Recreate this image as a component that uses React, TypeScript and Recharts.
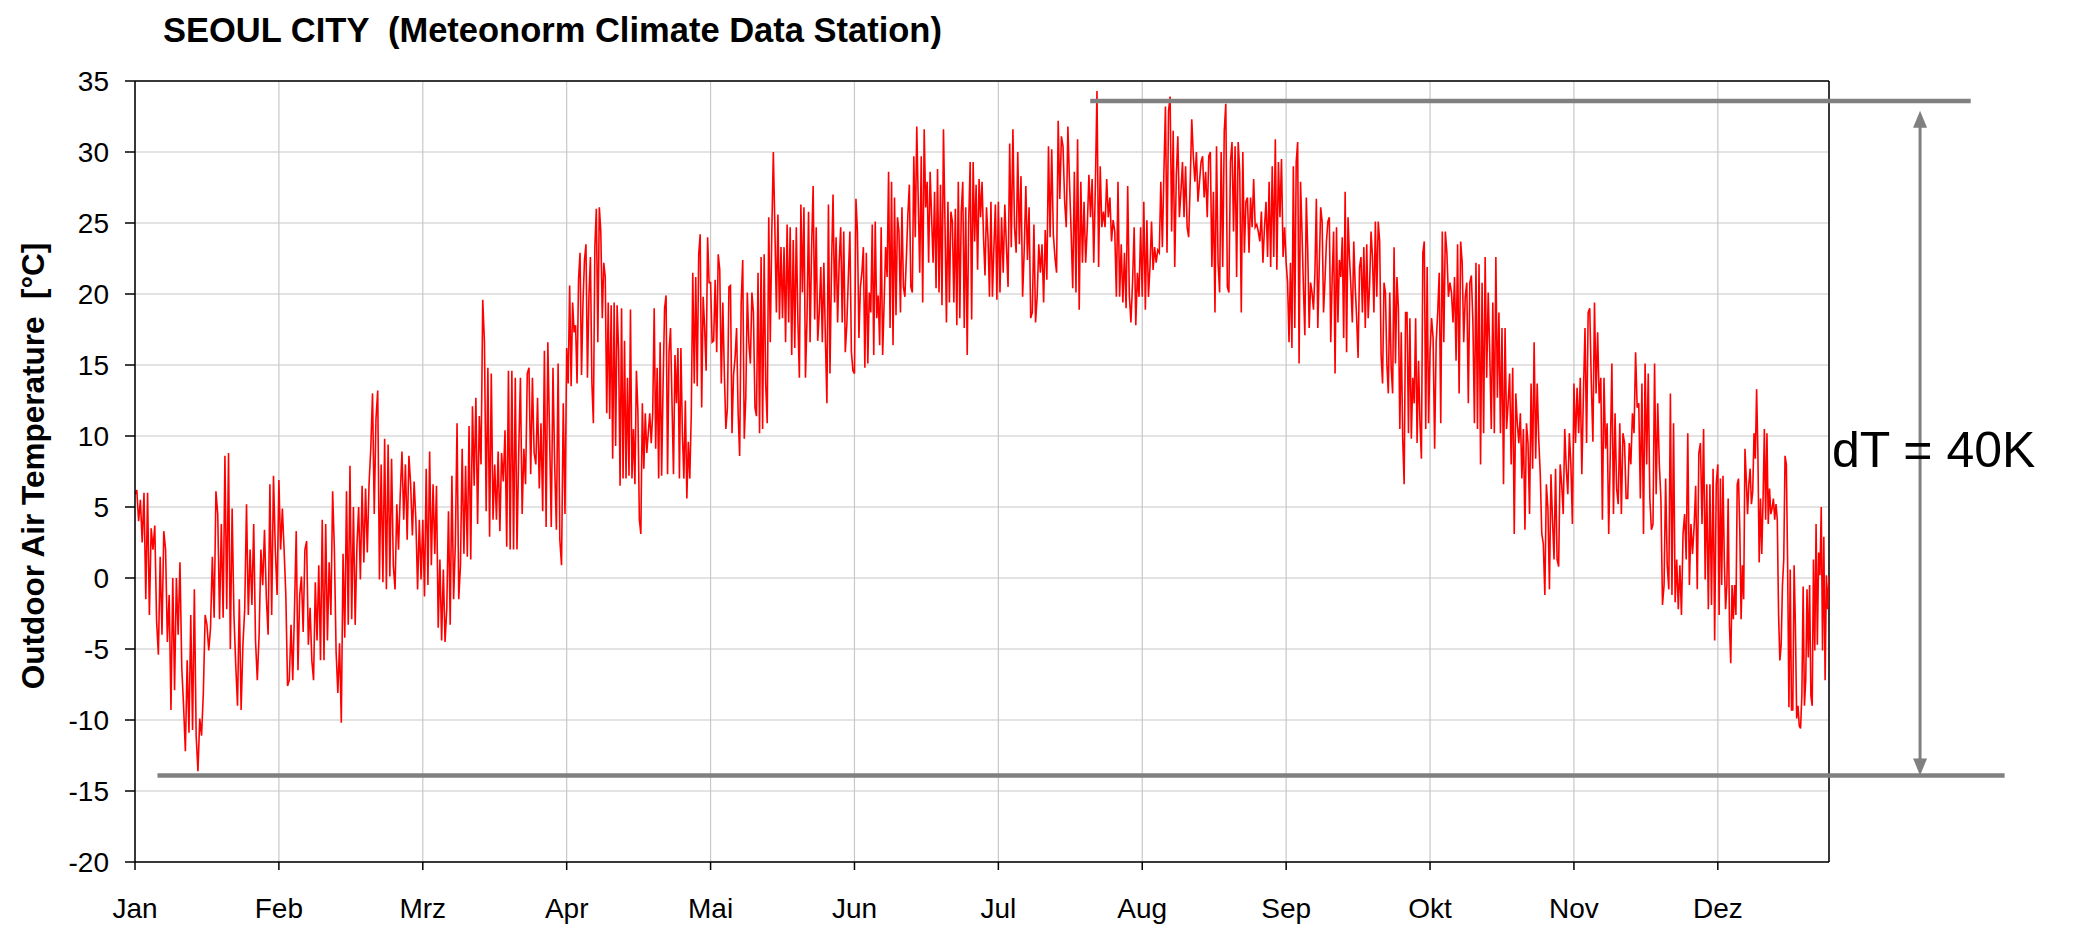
import React from 'react';
import { LineChart, Line, XAxis, YAxis, CartesianGrid, ReferenceLine } from 'recharts';

const MONTHS = ['Jan', 'Feb', 'Mrz', 'Apr', 'Mai', 'Jun', 'Jul', 'Aug', 'Sep', 'Okt', 'Nov', 'Dez'];
const MONTH_HOURS = 730;
const AXIS_END = 8594;
const MONTH_TICKS = MONTHS.map((_, i) => i * MONTH_HOURS);
const Y_TICKS = [-20, -15, -10, -5, 0, 5, 10, 15, 20, 25, 30, 35];

// outdoor air temperature [°C], turning points, month by month
const jan = [5.9, 6.2, 4.0, 5.5, 2.5, 6.0, -1.5, 6.0, -2.6, 3.5, 2.0, 3.7, -3.0, -5.4, 1.5, -4.0, 3.3, 2.0, -4.5, -1.2,
  -9.3, 0.0, -7.9, 0.0, -4.0, 1.1, -6.3, -9.0, -12.2, -5.8, -10.9, -2.6, -10.7, -0.8, -11.1, -13.6, -9.9, -11.1, -8.1, -2.6,
  -3.3, -5.1, -3.5, 1.5, -2.8, 6.1, 4.5, -2.9, 3.8, -2.8, 8.6, -2.2, 8.8, -5.0, 4.9, -2.6, -6.1, -9.0, -1.5, -9.3,
  -4.7, -2.2, 5.2, -2.6, 2.0, -1.9, 3.8, -4.4, -7.2, -4.0, 2.0, -0.5, 3.4, -1.3, -4.0, 6.6, -2.6, 7.2, 2.0, -1.2];
const feb = [6.9, 2.0, 4.9, 2.0, -1.2, -7.6, -7.2, -3.3, -7.2, -2.2, 3.3, -6.5, -1.2, 0.1, -3.8, 2.0, 2.6, -4.7, -2.1, -5.8,
  -7.2, -0.3, -4.4, 0.9, -5.8, 4.1, -5.8, 3.8, -4.4, 1.1, -2.6, 6.1, 2.0, -5.2, -8.1, -4.6, -10.2, 1.7, -4.2, 6.1,
  -3.3, 7.9, -2.9, 5.0, -3.3, 2.2, 5.0, -0.1, 6.5, 1.1, 6.3, 1.8, 6.6, 9.1, 13.0, 4.5, 11.2, 13.2, -0.1, 8.0,
  -0.3, 9.8, -0.8, 9.4, 0.1, 8.4, 0.9, -0.8, 5.2, 2.0, 5.9, 8.9, 4.1, 8.0, 2.7, 8.6, 6.6, 3.0, 6.8, 4.1, -0.8, 4.1, -0.1];
const mrz = [4.1, -1.3, 7.7, -0.5, 8.9, 0.9, 6.6, 1.7, 6.5, -3.5, 1.3, -4.4, 0.6, -4.5, -2.2, 4.7, -3.3, 7.2, -1.5, 2.4,
  10.9, -1.5, 0.9, 9.1, 1.7, 7.9, 1.5, 10.7, 1.3, 12.1, 6.5, 12.7, 3.8, 11.4, 8.0, 19.6, 16.6, 4.7, 14.8, 2.9,
  14.4, 4.1, 8.0, 4.1, 8.9, 3.3, 8.8, 6.8, 10.4, 2.2, 14.6, 2.0, 14.6, 2.0, 14.1, 2.0, 8.9, 14.1, 4.5, 9.1,
  6.6, 14.4, 14.8, 7.3, 14.1, 8.8, 8.0, 12.7, 6.3, 10.9, 4.7, 16.0, 3.6, 16.6, 10.2, 3.6, 14.8, 7.9, 3.4, 15.1, 2.7, 0.9, 12.3, 4.5];
const apr = [16.2, 13.7, 20.6, 13.5, 19.4, 17.3, 17.8, 13.7, 21.0, 22.9, 14.3, 19.4, 22.4, 23.5, 14.1, 19.8, 22.6, 13.7, 10.9, 23.3,
  26.0, 16.6, 26.1, 24.4, 18.3, 22.2, 21.2, 11.6, 19.4, 11.2, 19.2, 8.4, 19.4, 9.3, 19.2, 16.0, 6.5, 19.0, 7.0, 16.7,
  7.0, 14.1, 7.2, 18.9, 7.0, 10.5, 6.6, 14.6, 11.8, 4.1, 3.1, 12.3, 7.7, 11.6, 8.8, 10.2, 11.6, 9.5, 11.6, 19.0,
  9.1, 14.8, 7.0, 16.6, 7.2, 13.7, 19.0, 19.9, 7.3, 15.9, 17.6, 12.3, 7.3, 15.7, 12.3, 16.2, 7.0, 16.2, 10.2, 7.0,
  12.5, 5.6, 9.6, 7.0, 11.6, 21.5, 13.7, 21.2, 13.5, 22.8, 24.2, 12.0, 19.8, 17.6, 14.6, 24.0, 20.8];
const mai = [20.8, 16.6, 16.7, 21.0, 15.9, 22.8, 21.7, 13.7, 19.4, 14.4, 10.5, 12.0, 20.5, 20.6, 10.2, 14.3, 15.5, 17.6, 11.6, 8.6,
  19.4, 22.4, 9.8, 12.7, 20.1, 16.6, 15.1, 20.1, 18.7, 12.0, 11.4, 21.5, 10.2, 22.6, 10.5, 22.8, 13.7, 10.9, 25.4, 16.6,
  24.4, 30.0, 24.7, 18.7, 25.6, 18.2, 23.3, 18.3, 23.3, 16.6, 24.9, 18.0, 24.7, 15.7, 23.8, 16.2, 24.7, 18.3, 14.1, 26.3,
  20.1, 26.1, 14.1, 18.3, 25.8, 16.6, 23.3, 27.6, 18.2, 24.7, 16.7, 18.7, 21.9, 16.6, 22.2, 16.9, 12.3, 26.3, 14.4, 21.9,
  27.0, 19.4, 24.0, 18.0, 22.2, 24.7, 18.0, 24.4, 15.9, 17.8, 21.2, 24.4, 15.9, 14.6];
const jun = [14.4, 26.7, 24.4, 16.9, 20.5, 21.5, 23.3, 14.8, 22.9, 15.1, 20.1, 18.7, 24.9, 15.7, 25.1, 18.3, 19.9, 16.4, 24.7, 15.7,
  19.4, 23.3, 21.2, 28.6, 17.6, 27.9, 16.4, 26.8, 18.5, 25.4, 24.4, 18.7, 26.1, 20.5, 19.8, 22.6, 25.6, 27.7, 20.5, 20.1,
  29.7, 24.0, 31.8, 26.5, 21.5, 29.7, 19.4, 31.6, 26.1, 27.9, 22.2, 28.6, 25.4, 22.2, 27.2, 20.4, 28.8, 20.1, 27.7, 19.2,
  31.6, 25.1, 18.0, 26.5, 19.4, 25.8, 25.1, 19.4, 26.0, 17.8, 27.9, 18.3, 25.8, 27.9, 17.6, 26.1, 15.7, 25.1, 29.3, 18.2,
  29.3, 23.7, 27.7, 21.7, 28.1, 25.4, 27.9, 24.0, 21.3, 26.1, 24.0, 19.8, 26.5, 19.8, 23.3, 26.3, 19.6];
const jul = [26.5, 20.1, 25.4, 21.5, 26.3, 23.3, 20.5, 30.6, 23.3, 31.6, 24.7, 22.9, 30.0, 23.5, 28.3, 19.8, 23.1, 27.6, 22.4, 26.1,
  18.3, 18.7, 24.9, 18.0, 19.8, 23.5, 21.5, 23.5, 19.4, 24.5, 21.0, 30.4, 24.0, 30.2, 24.2, 22.6, 21.5, 32.2, 26.7, 31.1,
  30.4, 26.5, 24.7, 31.8, 27.9, 24.4, 20.4, 28.6, 20.1, 30.9, 18.9, 27.9, 22.2, 26.5, 22.2, 24.7, 28.4, 25.4, 28.1, 22.2,
  27.6, 34.3, 21.9, 29.0, 24.7, 25.8, 24.7, 28.1, 25.4, 26.8, 23.7, 25.2, 24.4, 19.8, 27.9, 19.8, 23.5, 19.4, 22.9, 19.0,
  27.6, 19.9, 18.0, 20.8, 24.7, 17.8, 21.5, 19.8, 24.7];
const aug = [19.8, 26.5, 18.9, 25.2, 19.8, 21.9, 25.1, 21.7, 23.3, 22.2, 23.1, 22.9, 27.9, 23.3, 28.6, 33.2, 22.9, 32.9, 33.9, 24.4,
  31.5, 21.9, 28.3, 31.1, 25.4, 27.2, 29.3, 25.4, 29.0, 24.7, 24.0, 27.9, 32.3, 29.7, 27.9, 30.0, 26.5, 27.9, 29.3, 29.7,
  26.8, 28.6, 25.4, 29.7, 30.0, 21.9, 27.2, 18.7, 30.4, 22.2, 20.1, 30.0, 21.9, 31.5, 33.4, 20.5, 20.1, 29.3, 30.7, 24.4,
  30.4, 21.2, 30.7, 28.6, 18.7, 30.0, 22.9, 26.5, 26.8, 22.9, 26.8, 24.7, 28.1, 24.7, 24.9, 24.4, 23.7, 25.8, 22.2, 24.7,
  26.5, 22.6, 27.9, 21.9, 29.0, 22.6, 30.9, 21.7, 29.3, 25.4, 29.5, 22.6, 24.7];
const sep = [22.2, 20.8, 16.6, 22.2, 16.2, 29.0, 17.6, 29.3, 30.7, 15.1, 27.9, 24.4, 20.5, 17.1, 26.8, 23.1, 17.6, 20.8, 20.1, 18.9,
  21.5, 26.7, 17.6, 21.9, 26.1, 25.1, 18.7, 21.0, 23.7, 25.1, 25.4, 16.6, 21.2, 24.4, 14.4, 24.7, 18.0, 22.4, 21.2, 24.0,
  16.9, 27.2, 15.9, 25.4, 22.6, 20.5, 18.0, 23.7, 20.5, 18.3, 15.5, 21.9, 22.6, 18.7, 23.3, 17.6, 23.5, 18.3, 20.6, 24.4,
  22.6, 18.7, 25.1, 19.8, 25.1, 23.7, 15.7, 13.7, 20.8, 20.1, 15.1, 13.0, 20.1, 14.8, 13.0, 23.3, 15.1, 21.2, 19.0, 10.5,
  17.3, 9.8, 6.6, 18.7, 18.7, 10.2, 18.3, 9.8, 14.1, 12.3, 18.3, 9.5, 15.3, 10.9, 8.4, 22.9, 23.7, 10.5, 21.9, 10.9];
const okt = [15.9, 18.3, 16.9, 9.1, 16.6, 18.7, 21.5, 10.9, 24.4, 16.6, 24.4, 22.9, 19.8, 20.8, 20.1, 18.0, 21.2, 15.3, 23.5, 13.0,
  23.7, 22.2, 16.6, 19.8, 20.8, 12.3, 20.8, 21.3, 18.0, 10.9, 22.2, 10.5, 22.1, 8.0, 20.8, 10.2, 22.6, 14.1, 20.1, 15.9,
  10.5, 19.4, 10.2, 22.6, 12.7, 18.7, 10.2, 17.6, 6.6, 17.6, 10.5, 12.3, 14.4, 8.0, 14.8, 3.1, 13.0, 10.9, 9.5, 11.6,
  7.0, 10.5, 3.4, 10.9, 9.5, 4.5, 13.7, 7.7, 16.6, 8.4, 13.7, 9.8, 7.3, 3.1, 2.4, -1.2, 6.6, 4.9, -0.8, 7.3,
  4.1, 1.3, 7.7, 1.3, 0.8, 8.0, 6.6, 4.5, 10.5, 7.7, 5.9, 10.2, 8.0, 3.8];
const nov = [13.7, 9.5, 13.4, 10.2, 14.1, 7.3, 13.0, 17.6, 9.5, 18.7, 19.0, 13.7, 9.6, 19.4, 13.0, 17.3, 12.3, 14.1, 4.1, 14.1,
  9.1, 10.9, 3.1, 8.8, 15.1, 4.5, 11.6, 6.3, 5.2, 10.9, 4.5, 10.2, 9.5, 5.6, 5.6, 9.5, 8.0, 11.6, 10.2, 15.9,
  12.0, 12.3, 5.6, 13.7, 3.1, 15.1, 8.0, 14.4, 5.6, 3.4, 3.8, 15.1, 5.9, 12.3, 8.0, 5.6, -1.9, -0.5, 7.0, 0.9,
  -0.8, 13.0, -1.2, 10.9, -1.7, 1.3, -2.2, 0.9, -2.6, 3.1, 4.5, 1.3, 10.2, -0.5, 3.8, 1.7, 3.6, 6.5, -0.8, 8.8,
  9.5, 3.8, 10.5, -0.1, 6.6, -2.2, 6.6, -1.9, 7.7, -4.4, 6.6];
const dez = [8.0, -2.6, 7.0, -0.5, 7.2, 1.3, -2.2, -0.5, 5.6, -3.3, -6.0, -0.5, -2.9, -0.5, -2.6, 6.6, 7.0, 3.4, -2.9, 0.9,
  -1.5, 9.1, 7.0, 4.5, 6.6, 7.7, 5.2, 6.1, 10.2, 8.4, 13.3, 8.8, 1.1, 5.6, 1.7, 5.6, 10.5, 4.1, 10.2, 3.8,
  6.3, 4.5, 4.9, 5.6, 4.1, 5.2, 4.1, -2.6, -5.8, -4.7, -0.5, 1.3, 8.6, 8.0, 0.9, -9.1, 0.6, -9.3, -9.3, 0.9,
  -3.3, -9.9, -9.0, -10.4, -10.6, -8.3, -0.6, -9.0, -7.2, -0.8, -5.6, -0.5, -8.3, -9.0, 1.3, -5.1, 3.8, -4.7, 1.8, 0.2,
  5.0, -5.1, 2.9, -7.2, 0.2, -2.2, 0.1];

const MONTH_VALUES = [jan, feb, mrz, apr, mai, jun, jul, aug, sep, okt, nov, dez];

// dT annotation: max / min marker lines and the arrow between them
const DT_TOP = 33.6;
const DT_BOTTOM = -13.9;
const DT_ARROW_TOP = 32.9;
const TOP_LINE_HOURS = [4846, 9313];
const BOTTOM_LINE_HOURS = [114, 9485];
const ARROW_HOUR = 9056;

const data = MONTH_VALUES.flatMap((vals, m) => {
  const start = m * MONTH_HOURS;
  const last = m === MONTH_VALUES.length - 1;
  const step = last ? (AXIS_END - start) / (vals.length - 1) : MONTH_HOURS / vals.length;
  return vals.map((t, i) => ({ hour: start + i * step, temp: t }));
});

const FONT = '"Liberation Sans", Arial, Helvetica, sans-serif';
const GRAY = '#808080';

const DoubleArrow = (props: any) => {
  const { x1, y1, y2 } = props;
  const top = Math.min(y1, y2);
  const bot = Math.max(y1, y2);
  const head = 17;
  const hw = 7;
  return (
    <g>
      <line x1={x1} y1={top + head - 2} x2={x1} y2={bot - head + 2} stroke={GRAY} strokeWidth={3} />
      <polygon points={`${x1},${top} ${x1 - hw},${top + head} ${x1 + hw},${top + head}`} fill={GRAY} />
      <polygon points={`${x1},${bot} ${x1 - hw},${bot - head} ${x1 + hw},${bot - head}`} fill={GRAY} />
    </g>
  );
};

export default function App() {
  return (
    <div style={{ position: 'absolute', left: 0, top: 0, width: 2100, height: 929, background: '#fff', fontFamily: FONT }}>
      <div style={{ position: 'absolute', left: 163, top: 13, fontSize: 34.5, lineHeight: '34.5px', fontWeight: 'bold', whiteSpace: 'pre' }}>
        {'SEOUL CITY  (Meteonorm Climate Data Station)'}
      </div>
      <div
        style={{
          position: 'absolute', left: 33 - 300, top: 466 - 17, width: 600, height: 34, lineHeight: '34px',
          textAlign: 'center', fontSize: 31.5, fontWeight: 'bold', whiteSpace: 'pre', transform: 'rotate(-90deg)',
        }}
      >
        {'Outdoor Air Temperature  [°C]'}
      </div>
      <LineChart width={2100} height={929} data={data} margin={{ top: 81, right: 271, bottom: 17, left: 75 }}>
        <CartesianGrid stroke="#c8c8c8" strokeWidth={1.2} />
        <XAxis
          dataKey="hour"
          type="number"
          domain={[0, AXIS_END]}
          allowDataOverflow
          ticks={MONTH_TICKS}
          interval={0}
          tickFormatter={(v: number) => MONTHS[Math.round(v / MONTH_HOURS)]}
          tick={{ fill: '#000', fontSize: 28, fontFamily: FONT }}
          tickSize={8}
          tickMargin={28}
          height={50}
          axisLine={{ stroke: '#000', strokeWidth: 1.5 }}
          tickLine={{ stroke: '#000', strokeWidth: 1.5 }}
        />
        <YAxis
          type="number"
          domain={[-20, 35]}
          allowDataOverflow
          ticks={Y_TICKS}
          interval={0}
          tick={{ fill: '#000', fontSize: 28, fontFamily: FONT }}
          tickSize={10}
          tickMargin={16}
          width={60}
          axisLine={{ stroke: '#000', strokeWidth: 1.5 }}
          tickLine={{ stroke: '#000', strokeWidth: 1.5 }}
        />
        <ReferenceLine y={35} stroke="#000" strokeWidth={1.5} />
        <ReferenceLine x={AXIS_END} stroke="#000" strokeWidth={1.5} />
        <Line
          type="linear"
          dataKey="temp"
          stroke="#ff0000"
          strokeWidth={1.6}
          dot={false}
          activeDot={false}
          isAnimationActive={false}
        />
        <ReferenceLine
          segment={[{ x: TOP_LINE_HOURS[0], y: DT_TOP }, { x: TOP_LINE_HOURS[1], y: DT_TOP }]}
          stroke={GRAY}
          strokeWidth={4.5}
          ifOverflow="visible"
        />
        <ReferenceLine
          segment={[{ x: BOTTOM_LINE_HOURS[0], y: DT_BOTTOM }, { x: BOTTOM_LINE_HOURS[1], y: DT_BOTTOM }]}
          stroke={GRAY}
          strokeWidth={4.5}
          ifOverflow="visible"
        />
        <ReferenceLine
          segment={[{ x: ARROW_HOUR, y: DT_ARROW_TOP }, { x: ARROW_HOUR, y: DT_BOTTOM }]}
          ifOverflow="visible"
          shape={DoubleArrow}
        />
      </LineChart>
      <div style={{ position: 'absolute', left: 1832, top: 425, fontSize: 50, lineHeight: '50px', whiteSpace: 'pre' }}>
        {'dT = 40K'}
      </div>
    </div>
  );
}
